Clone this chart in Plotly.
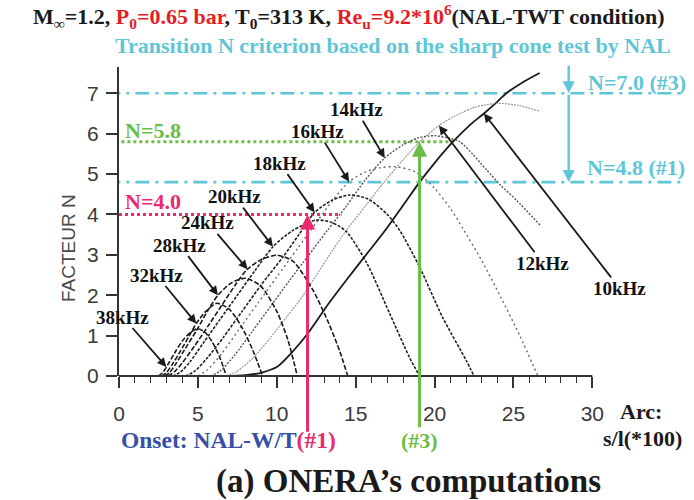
import numpy as np
import plotly.graph_objects as go

# ---------------- N-factor curves (arc s/l*100 , N) ----------------
s_38 = [2.5, 2.8, 3.2, 3.6, 4.0, 4.5, 4.95, 5.4, 5.9, 6.4, 6.8]
n_38 = [0.0, 0.1, 0.35, 0.62, 0.86, 1.07, 1.17, 1.1, 0.85, 0.45, 0.0]

s_32 = [2.7, 3.0, 3.4, 3.9, 4.4, 4.9, 5.5, 6.2, 7.0, 7.8, 8.5, 9.1]
n_32 = [0.0, 0.08, 0.3, 0.62, 0.96, 1.3, 1.6, 1.8, 1.65, 1.2, 0.62, 0.0]

s_28 = [2.9, 3.2, 3.6, 4.2, 4.9, 5.6, 6.27, 7.1, 8.0, 9.0, 10.0, 10.7, 11.3]
n_28 = [0.0, 0.08, 0.3, 0.68, 1.12, 1.6, 2.0, 2.3, 2.42, 2.22, 1.6, 0.9, 0.0]

s_24 = [3.1, 3.5, 4.0, 4.8, 5.7, 6.6, 7.4, 8.1, 9.0, 10.0, 11.0, 12.3, 13.3, 14.0, 14.5]
n_24 = [0.0, 0.1, 0.32, 0.75, 1.27, 1.8, 2.27, 2.63, 2.88, 2.99, 2.85, 2.12, 1.3, 0.6, 0.0]

s_20 = [3.4, 3.9, 4.5, 5.4, 6.4, 7.5, 8.6, 9.76, 11.0, 12.5, 13.5, 14.4, 15.7, 17.15, 18.4, 19.05]
n_20 = [0.0, 0.1, 0.35, 0.85, 1.4, 2.0, 2.6, 3.2, 3.6, 3.86, 3.8, 3.58, 2.8, 1.55, 0.47, 0.0]

s_18 = [4.2, 4.8, 5.6, 6.6, 7.8, 9.0, 10.4, 11.4, 12.4, 13.5, 14.6, 15.8, 17.0, 17.8, 19.05, 20.5, 22.0, 22.5]
n_18 = [0.0, 0.12, 0.45, 0.95, 1.6, 2.25, 2.95, 3.5, 4.05, 4.35, 4.48, 4.38, 4.0, 3.6, 2.7, 1.46, 0.39, 0.0]

s_16 = [5.0, 5.6, 6.5, 7.6, 8.8, 10.0, 11.3, 12.6, 13.6, 14.58, 15.6, 16.6, 17.6, 18.8, 20.0, 21.0, 21.8, 23.0, 24.2, 25.4, 26.55]
n_16 = [0.0, 0.15, 0.55, 1.15, 1.8, 2.45, 3.15, 3.85, 4.38, 4.81, 5.05, 5.16, 5.18, 5.05, 4.65, 4.15, 3.65, 2.85, 1.95, 1.0, 0.0]

s_14 = [5.8, 6.4, 7.3, 8.4, 9.6, 10.8, 12.0, 13.2, 14.4, 15.6, 16.84, 18.0, 19.0, 20.0, 21.0, 21.6, 22.4, 23.3, 24.2, 25.2, 26.7]
n_14 = [0.0, 0.12, 0.5, 1.08, 1.72, 2.36, 2.98, 3.6, 4.2, 4.85, 5.4, 5.72, 5.9, 5.95, 5.88, 5.8, 5.5, 5.1, 4.72, 4.35, 3.73]

s_12 = [6.8, 7.5, 8.5, 9.6, 10.6, 11.44, 12.6, 13.6, 14.4, 15.6, 16.8, 18.0, 19.05, 20.28, 21.5, 22.7, 24.0, 25.3, 26.7]
n_12 = [0.0, 0.12, 0.45, 0.95, 1.45, 1.87, 2.55, 3.15, 3.6, 4.2, 4.8, 5.35, 5.8, 6.2, 6.48, 6.67, 6.75, 6.7, 6.55]

s_10 = [7.2, 8.0, 9.0, 10.0, 11.0, 12.0, 13.3, 14.5, 15.7, 16.9, 18.0, 19.05, 20.1, 21.17, 22.2, 23.13, 24.0, 24.55, 25.5, 26.66]
n_10 = [0.0, 0.02, 0.08, 0.22, 0.6, 1.07, 1.8, 2.42, 3.02, 3.62, 4.22, 4.8, 5.32, 5.8, 6.2, 6.5, 6.8, 7.0, 7.25, 7.5]

freq_names = ["38kHz", "32kHz", "28kHz", "24kHz", "20kHz", "18kHz", "16kHz", "14kHz", "12kHz", "10kHz"]
curve_s = [s_38, s_32, s_28, s_24, s_20, s_18, s_16, s_14, s_12, s_10]
curve_n = [n_38, n_32, n_28, n_24, n_20, n_18, n_16, n_14, n_12, n_10]

# arc position where each label's arrow meets its curve
label_arc = [3.0, 4.9, 6.27, 8.15, 9.76, 12.4, 14.58, 16.84, 20.28, 23.13]

# transition criteria (N values) and onset arc positions
n_nal_3 = 7.0
n_nal_1 = 4.8
n_onera_3 = 5.8
n_onera_1 = 4.0
onset_1 = 11.95
onset_3 = 19.05

x_ticks = [0, 5, 10, 15, 20, 25, 30]
y_ticks = [0, 1, 2, 3, 4, 5, 6, 7]

# ---------------- styles ----------------
BLACK = "#1a1a1a"
CYAN = "#5fc6d8"
GREEN = "#6cbd45"
PINK = "#ea2a6c"
RED = "#e41e26"
BLUE = "#3650a6"
SERIF = "Liberation Serif"
SANS = "Liberation Sans"
Y_MAX = 7.65

line_style = {
    "38kHz": dict(color=BLACK, width=1.6, dash="5px,2px"),
    "32kHz": dict(color=BLACK, width=1.6, dash="5px,2px"),
    "28kHz": dict(color=BLACK, width=1.6, dash="5px,2px"),
    "24kHz": dict(color=BLACK, width=1.6, dash="5px,2px"),
    "20kHz": dict(color="#222222", width=1.6, dash="3px,1.5px"),
    "18kHz": dict(color="#222222", width=1.6, dash="3px,1.5px"),
    "16kHz": dict(color="#6a6a6a", width=1.4, dash="2px,3px"),
    "14kHz": dict(color="#555555", width=1.4, dash="2px,1.5px"),
    "12kHz": dict(color="#9a9a9a", width=1.2, dash="2px,1px"),
    "10kHz": dict(color=BLACK, width=1.8, dash="solid"),
}

fig = go.Figure()

# criterion lines
fig.add_trace(go.Scatter(x=[-0.8, 35.9], y=[n_nal_3, n_nal_3], mode="lines",
                         line=dict(color=CYAN, width=2.6, dash="14px,6px,3px,6px"), hoverinfo="skip"))
fig.add_trace(go.Scatter(x=[-0.8, 35.9], y=[n_nal_1, n_nal_1], mode="lines",
                         line=dict(color=CYAN, width=2.6, dash="14px,6px,3px,6px"), hoverinfo="skip"))
fig.add_trace(go.Scatter(x=[0.15, 21.2], y=[n_onera_3, n_onera_3], mode="lines",
                         line=dict(color=GREEN, width=3, dash="dot"), hoverinfo="skip"))
fig.add_trace(go.Scatter(x=[0.0, 14.1], y=[n_onera_1, n_onera_1], mode="lines",
                         line=dict(color=PINK, width=3, dash="dot"), hoverinfo="skip"))

# N-factor curves (lighter ones first)
for name, s, n in reversed(list(zip(freq_names, curve_s, curve_n))):
    fig.add_trace(go.Scatter(x=s, y=n, mode="lines", name=name,
                             line=dict(shape="spline", smoothing=0.7, **line_style[name]),
                             hoverinfo="skip"))

annotations = []

# frequency labels, each with an arrow from the label to its curve
label_place = {
    "38kHz": (0.25, 1.46),
    "32kHz": (2.37, 2.50),
    "28kHz": (3.85, 3.24),
    "24kHz": (5.64, 3.79),
    "20kHz": (7.33, 4.44),
    "18kHz": (10.18, 5.27),
    "16kHz": (12.61, 6.05),
    "14kHz": (15.04, 6.59),
    "12kHz": (26.87, 2.79),
    "10kHz": (31.73, 2.17),
}
for name, s, n, sa in zip(freq_names, curve_s, curve_n, label_arc):
    tx, ty = label_place[name]
    annotations.append(dict(x=sa, y=float(np.interp(sa, s, n)), ax=tx, ay=ty,
                            xref="x", yref="y", axref="x", ayref="y",
                            text="<b>%s</b>" % name, font=dict(family=SERIF, size=19, color="#111111"),
                            borderpad=0, showarrow=True, arrowhead=2, arrowsize=1, arrowwidth=1.8,
                            arrowcolor=BLACK, standoff=0, startstandoff=0))

# onset arrows
annotations.append(dict(x=onset_1, y=n_onera_1, ax=onset_1, ay=-1.42, xref="x", yref="y",
                        axref="x", ayref="y", text="", showarrow=True, arrowhead=2,
                        arrowsize=1, arrowwidth=3, arrowcolor=PINK, standoff=0))
annotations.append(dict(x=onset_3, y=n_onera_3, ax=onset_3, ay=-1.59, xref="x", yref="y",
                        axref="x", ayref="y", text="<b>(#3)</b>", showarrow=True, arrowhead=2,
                        font=dict(family=SERIF, size=22, color=GREEN), borderpad=0,
                        arrowsize=1, arrowwidth=3, arrowcolor=GREEN, standoff=0, startstandoff=0))
# NAL criterion range arrows
annotations.append(dict(x=28.5, y=n_nal_3, ax=28.5, ay=7.72, xref="x", yref="y",
                        axref="x", ayref="y", text="", showarrow=True, arrowhead=2,
                        arrowsize=1, arrowwidth=2.4, arrowcolor=CYAN, standoff=0))
annotations.append(dict(x=28.5, y=n_nal_1, ax=28.5, ay=n_nal_3, xref="x", yref="y",
                        axref="x", ayref="y", text="", showarrow=True, arrowhead=2,
                        arrowsize=1, arrowwidth=2.4, arrowcolor=CYAN, standoff=0))


def txt(x, y, text, size, color, xanchor="center", xref="x", yref="y", family=SERIF, angle=0):
    annotations.append(dict(x=x, y=y, xref=xref, yref=yref, text=text, showarrow=False,
                            xanchor=xanchor, yanchor="middle", textangle=angle,
                            font=dict(family=family, size=size, color=color)))


txt(29.62, 7.26, "<b>N=%.1f (#3)</b>" % n_nal_3, 22, CYAN, "left")
txt(29.55, 5.17, "<b>N=%.1f (#1)</b>" % n_nal_1, 22, CYAN, "left")
txt(0.25, 6.07, "<b>N=%.1f</b>" % n_onera_3, 22, GREEN, "left")
txt(0.25, 4.31, "<b>N=%.1f</b>" % n_onera_1, 22, PINK, "left")

# texts under the x axis (paper y below the plot area)
txt(0.0, -1.59 / Y_MAX, "<b><span style='color:%s'>Onset: NAL-W/T</span>(#1)</b>" % BLUE,
    23.5, PINK, "left", yref="paper")
txt(33.1, -0.89 / Y_MAX, "<b>Arc:</b>", 22, BLACK, yref="paper")
txt(33.16, -1.54 / Y_MAX, "<b>s/l(*100)</b>", 22, BLACK, yref="paper")

txt(0.405, 1.165,
    "<b>M<sub>∞</sub>=1.2, <span style='color:%s'>P<sub>0</sub>=0.65 bar</span>, "
    "T<sub>0</sub>=313 K, <span style='color:%s'>Re<sub>u</sub>=9.2*10<sup>6</sup></span>"
    "(NAL-TWT condition)</b>" % (RED, RED),
    22, BLACK, xref="paper", yref="paper")
txt(0.482, 1.068, "<b>Transition N criterion based on the sharp cone test by NAL</b>",
    22, CYAN, xref="paper", yref="paper")
txt(0.51, -0.34, "<b>(a) ONERA’s computations</b>", 33, BLACK, xref="paper", yref="paper")
txt(-0.09, 0.414, "FACTEUR N", 19, "#4a4a4a", xref="paper", yref="paper", family=SANS, angle=-90)

minor_vals = [v for v in range(1, 30) if v % 5]

fig.update_layout(
    width=694, height=500, autosize=False,
    margin=dict(l=119, r=7, t=67, b=124),
    paper_bgcolor="white", plot_bgcolor="white",
    showlegend=False,
    annotations=annotations,
    shapes=[dict(type="line", xref="x", yref="paper", x0=0, x1=30, y0=0, y1=0,
                 line=dict(color="#333333", width=2), layer="above")],
    xaxis=dict(range=[0, 36], showline=False, showgrid=False, zeroline=False,
               tickmode="array", tickvals=x_ticks, ticks="outside", ticklen=11,
               tickwidth=1.6, tickcolor="#333333", ticklabelstandoff=8,
               tickfont=dict(family=SANS, size=21, color="#3a3a3a"),
               minor=dict(tickmode="array", tickvals=minor_vals, ticks="outside",
                          ticklen=6, tickwidth=1.4, tickcolor="#333333"),
               automargin=False),
    yaxis=dict(range=[0, Y_MAX], showline=True, linecolor="#333333", linewidth=2,
               showgrid=False, zeroline=False, tickmode="array", tickvals=y_ticks,
               ticks="outside", ticklen=11, tickwidth=1.6, tickcolor="#333333",
               ticklabelstandoff=3,
               tickfont=dict(family=SANS, size=21, color="#3a3a3a"), automargin=False),
)

fig.write_html("out.html")
